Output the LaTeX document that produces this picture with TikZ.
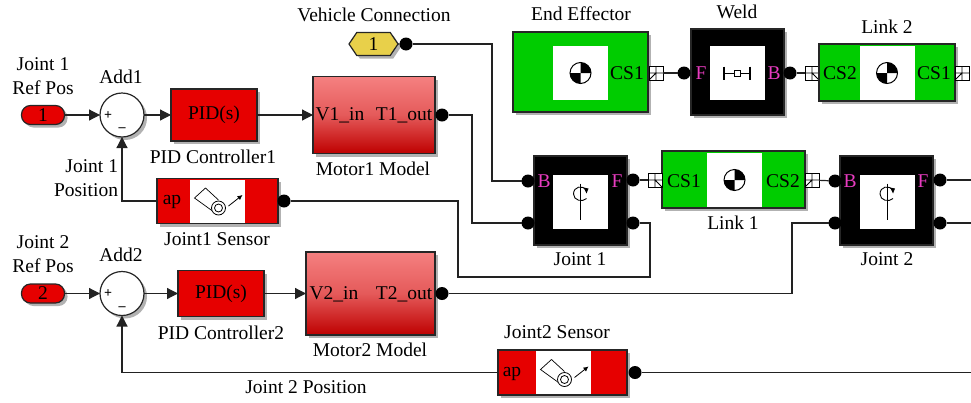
\documentclass[tikz,border=0pt]{standalone}
\usepackage{fontspec}
\setmainfont{Liberation Serif}
\usetikzlibrary{arrows.meta,shadows,shapes.symbols}

\definecolor{blockred}{HTML}{E60000}
\definecolor{blockgreen}{HTML}{00CC00}
\definecolor{motortop}{HTML}{F58080}
\definecolor{motorbot}{HTML}{BE0000}
\definecolor{portyellow}{HTML}{E8D04A}
\definecolor{pinmagenta}{HTML}{E83CC0}
\definecolor{wirecol}{HTML}{222222}

\tikzset{
  cgmark/.pic={
    \draw[line width=1pt, fill=white] (0,0) circle (10.5);
    \fill[black] (0,0) -- (-10.5,0) arc (180:90:10.5) -- cycle;
    \fill[black] (0,0) -- (10.5,0) arc (0:-90:10.5) -- cycle;
  },
  weldmark/.pic={
    \draw[line width=.8pt] (-13,0) -- (13,0);
    \draw[line width=2.6pt] (-13,-6.5) -- (-13,6.5);
    \draw[line width=2.6pt] (13,-6.5) -- (13,6.5);
    \draw[line width=.8pt, fill=white] (-3,-3) rectangle (3,3);
  },
  jointmark/.pic={
    \draw[line width=.9pt] (0,-18) -- (0,18);
    \draw[line width=.9pt] (6,-11) .. controls (2,-17) and (-7,-15) .. (-7,-7.5) .. controls (-7,-1) and (2,1) .. (6,-3);
    \fill (8,-13) -- (3,-14) -- (6,-8) -- cycle;
  },
  sensormark/.pic={
    \draw[line width=.7pt] (1,-1) -- (-12,-13) -- (-23,-3) -- (-5,10);
    \draw[line width=.8pt, fill=white] (1,7) circle (7);
    \draw[line width=.8pt] (1,7) circle (4);
    \draw[line width=.8pt, -{Latex[length=5pt,width=5pt]}] (11,5) -- (25,-6);
  },
  connmark/.pic={
    \draw[line width=.9pt] (-7,0) -- (7,0) (0,-7) -- (0,7) (-7,7) -- (0,0);
  }
}

\begin{document}
\begin{tikzpicture}[x=1pt, y=-1pt]

\tikzstyle{every node} = [font=\fontsize{19.5}{24}\selectfont, inner sep=0pt, outer sep=0pt]
\tikzstyle{blk} = [rectangle, draw=black!85, line width=1.2pt, drop shadow={shadow xshift=3pt, shadow yshift=-3pt, fill=black, opacity=.3}]
\tikzstyle{pidblk} = [blk, fill=blockred]
\tikzstyle{motorblk} = [blk, top color=motortop, bottom color=motorbot, middle color=motortop!70!motorbot]
\tikzstyle{bodyblk} = [blk, fill=blockgreen]
\tikzstyle{jointblk} = [blk, fill=black, minimum width=93pt, minimum height=89pt]
\tikzstyle{panel} = [rectangle, fill=white, minimum width=55pt, minimum height=54pt]
\tikzstyle{sumblk} = [blk, circle, fill=white, minimum size=44pt]
\tikzstyle{inport} = [blk, fill=blockred, rounded corners=9pt, minimum width=43pt, minimum height=19pt]
\tikzstyle{dot} = [circle, fill=black, minimum size=13pt]
\tikzstyle{conn} = [rectangle, draw=black, line width=.9pt, fill=white, minimum size=14pt]
\tikzstyle{pin} = [text=pinmagenta]
\tikzstyle{sign} = [font=\fontsize{14}{14}\selectfont\bfseries]
\tikzstyle{wire} = [draw=wirecol, line width=1.2pt]
\tikzstyle{arrowwire} = [wire, -{Triangle[length=11pt,width=11pt]}]

\useasboundingbox (0,0) rectangle (971,402);

% first motor loop
\node[inport] (in1) at (43,115) {1};
\node[sumblk] (add1) at (122,115) {};
\node[sign] (plus1) at (108,116) {+};
\node[sign] (minus1) at (122,130) {--};
\node[pidblk, minimum width=86pt, minimum height=52pt] (pid1) at (214,115) {PID(s)};
\node[motorblk, minimum width=122pt, minimum height=77pt] (motor1) at (374,115) {};
\node (v1in) at (340,115) {V1\_in};
\node (t1out) at (404,115) {T1\_out};
\node[dot] (t1dot) at (442,115) {};

\node[pidblk, minimum width=121pt, minimum height=45pt] (sens1) at (217.5,201) {};
\node[panel, minimum height=43pt] (sens1p) at (217.5,201) {};
\pic at (sens1p) {sensormark};
\node (ap1) at (172,202) {ap};
\node[dot] (sens1dot) at (284,201) {};

% second motor loop
\node[inport] (in2) at (43,293.5) {2};
\node[sumblk] (add2) at (122,293.5) {};
\node[sign] (plus2) at (108,294) {+};
\node[sign] (minus2) at (122,309) {--};
\node[pidblk, minimum width=86pt, minimum height=46pt] (pid2) at (221,293.5) {PID(s)};
\node[motorblk, minimum width=129pt, minimum height=83pt] (motor2) at (370.5,293.5) {};
\node (v2in) at (334,294) {V2\_in};
\node (t2out) at (404,294) {T2\_out};
\node[dot] (t2dot) at (442,293.5) {};

\node[pidblk, minimum width=129pt, minimum height=45pt] (sens2) at (562.5,372.5) {};
\node[panel, minimum height=43pt] (sens2p) at (563.5,372.5) {};
\pic at (sens2p) {sensormark};
\node (ap2) at (512,374) {ap};
\node[dot] (sens2dot) at (635,372.5) {};

% vehicle port
\node[blk, signal, signal to=west and east, signal pointer angle=112, fill=portyellow, minimum width=49pt, minimum height=23pt] (veh) at (373.5,44) {1};
\node[dot] (vehdot) at (406,44) {};

% upper row
\node[bodyblk, minimum width=135pt, minimum height=80pt] (eff) at (580.5,72) {};
\node[panel] (effp) at (580.5,73) {};
\pic at (effp) {cgmark};
\node (effcs) at (627,73) {CS1};
\node[conn] (effc) at (656,73) {};
\pic at (effc) {connmark};

\node[jointblk, minimum height=86pt] (weld) at (737.5,72) {};
\node[panel] (weldp) at (737,73) {};
\pic at (weldp) {weldmark};
\node[pin] (weldf) at (701,73) {F};
\node[pin] (weldb) at (774,73) {B};
\node[dot] (weldl) at (684,73) {};
\node[dot] (weldr) at (790,73) {};

\node[conn] (l2cl) at (812,73) {};
\pic[xscale=-1] at (l2cl) {connmark};
\node[bodyblk, minimum width=136pt, minimum height=57pt] (link2) at (887,72.5) {};
\node[panel] (link2p) at (887,73) {};
\pic at (link2p) {cgmark};
\node (l2cs2) at (840,73) {CS2};
\node (l2cs1) at (934,73) {CS1};
\node[conn] (l2cr) at (962,73) {};
\pic at (l2cr) {connmark};

% lower row
\node[jointblk] (joint1) at (580.5,200.5) {};
\node[panel] (joint1p) at (580.5,201.5) {};
\pic at (joint1p) {jointmark};
\node[pin] (j1b) at (544,181) {B};
\node[pin] (j1f) at (617,181) {F};
\node[dot] (j1tl) at (528,181) {};
\node[dot] (j1bl) at (528,223) {};
\node[dot] (j1tr) at (633,180) {};
\node[dot] (j1br) at (633,223) {};

\node[bodyblk, minimum width=143pt, minimum height=57pt] (link1) at (733.5,179.5) {};
\node[panel] (link1p) at (734.5,180) {};
\pic at (link1p) {cgmark};
\node (l1cs1) at (684,181) {CS1};
\node (l1cs2) at (783,181) {CS2};
\node[conn] (l1cl) at (655,180) {};
\pic[xscale=-1] at (l1cl) {connmark};
\node[conn] (l1cr) at (812,180) {};
\pic at (l1cr) {connmark};

\node[jointblk] (joint2) at (886.5,200.5) {};
\node[panel] (joint2p) at (887,201.5) {};
\pic at (joint2p) {jointmark};
\node[pin] (j2b) at (850,181) {B};
\node[pin] (j2f) at (923,181) {F};
\node[dot] (j2tl) at (835,181) {};
\node[dot] (j2bl) at (835,223) {};
\node[dot] (j2tr) at (940,180) {};
\node[dot] (j2br) at (940,223) {};

% labels
\node[align=center] (in1lbl) at (43,76) {Joint 1\\Ref Pos};
\node (add1lbl) at (121,77) {Add1};
\node (pid1lbl) at (213,157) {PID Controller1};
\node[align=right, anchor=east] (pos1lbl) at (118,178) {Joint 1\\Position};
\node (sens1lbl) at (217,239) {Joint1 Sensor};
\node (mot1lbl) at (373,169) {Motor1 Model};
\node (vehlbl) at (374,15) {Vehicle Connection};
\node (efflbl) at (581,14) {End Effector};
\node (weldlbl) at (737,12) {Weld};
\node (link2lbl) at (887,27) {Link 2};
\node (link1lbl) at (733,223) {Link 1};
\node (joint1lbl) at (580,259) {Joint 1};
\node (joint2lbl) at (887,259) {Joint 2};
\node[align=center] (in2lbl) at (43,254) {Joint 2\\Ref Pos};
\node (add2lbl) at (121,255) {Add2};
\node (pid2lbl) at (221,333) {PID Controller2};
\node (mot2lbl) at (370,350) {Motor2 Model};
\node (sens2lbl) at (557,332) {Joint2 Sensor};
\node (pos2lbl) at (306,387) {Joint 2 Position};

% bends and free ends
\coordinate (vehbend) at (492,44);
\coordinate (t1bend) at (472,115);
\coordinate (s1a) at (458,201);
\coordinate (s1b) at (458,277);
\coordinate (s1c) at (650,277);
\coordinate (s1d) at (650,223);
\coordinate (t2bend) at (792,293.5);
\coordinate (fb1) at (122,201);
\coordinate (fb2) at (122,372.5);
\coordinate (j2out1) at (971,180);
\coordinate (j2out2) at (971,223);
\coordinate (s2out) at (971,372.5);

\draw[arrowwire] (in1) -- (add1);
\draw[arrowwire] (add1) -- (pid1);
\draw[arrowwire] (pid1) -- (motor1);
\draw[arrowwire] (in2) -- (add2);
\draw[arrowwire] (add2) -- (pid2);
\draw[arrowwire] (pid2) -- (motor2);
\draw[arrowwire] (sens1) -- (fb1) -- (add1);
\draw[arrowwire] (sens2) -- (fb2) -- (add2);
\draw[wire] (veh) -- (vehdot);
\draw[wire] (vehdot) -- (vehbend) |- (j1tl);
\draw[wire] (t1dot) -- (t1bend) |- (j1bl);
\draw[wire] (sens1dot) -- (s1a) -- (s1b) -- (s1c) -- (s1d) -- (j1br);
\draw[wire] (t2dot) -- (t2bend) |- (j2bl);
\draw[wire] (effc) -- (weldl);
\draw[wire] (weldr) -- (l2cl);
\draw[wire] (j1tr) -- (l1cl);
\draw[wire] (l1cr) -- (j2tl);
\draw[wire] (j2tr) -- (j2out1);
\draw[wire] (j2br) -- (j2out2);
\draw[wire] (sens2dot) -- (s2out);
\end{tikzpicture}
\end{document}
